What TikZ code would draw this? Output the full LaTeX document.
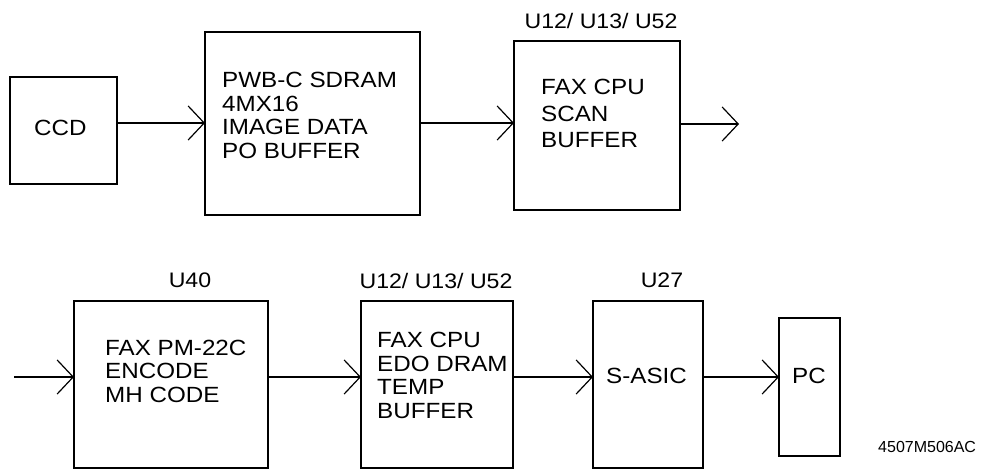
\documentclass[tikz,border=0pt]{standalone}
\usepackage{fontspec}
\setmainfont{Liberation Sans}[FakeStretch=1.1]
\newfontfamily\codefont{Liberation Sans}
\usetikzlibrary{arrows.meta}
\begin{document}
\begin{tikzpicture}[x=1pt,y=-1pt,
  box/.style={draw,line width=1.2pt,inner sep=0pt,outer sep=0pt},
  txt/.style={anchor=north west,inner sep=0pt,align=left,font=\fontsize{22}{23.5}\selectfont},
  lbl/.style={anchor=north,inner sep=0pt,font=\fontsize{21}{24}\selectfont},
  flow/.style={line width=1.2pt,-{Straight Barb[length=16pt,width=34pt]}}]
\useasboundingbox (0,0) rectangle (985,470);
% top row
\node[box,minimum width=107,minimum height=107] (ccd) at (63.5,130.5) {};
\node[box,minimum width=215,minimum height=183] (pwb) at (312.5,123.5) {};
\node[box,minimum width=166,minimum height=169] (scan) at (597,125.5) {};
\node[txt] (ccdt) at (34,120) {CCD};
\node[txt,font=\fontsize{22}{23.7}\selectfont] (pwbt) at (222,72) {PWB-C SDRAM\\4MX16\\IMAGE DATA\\PO BUFFER};
\node[txt,font=\fontsize{22}{26.7}\selectfont] (scant) at (541,79) {FAX CPU\\SCAN\\BUFFER};
\node[lbl] (scanl) at (601,13) {U12/ U13/ U52};
\coordinate (scanout) at (739,124);
% bottom row
\node[box,minimum width=194,minimum height=167] (pm) at (171,384.5) {};
\node[box,minimum width=152,minimum height=167] (edo) at (437,384.5) {};
\node[box,minimum width=110,minimum height=167] (asic) at (648,384.5) {};
\node[box,minimum width=61,minimum height=138] (pc) at (809.5,387) {};
\node[txt,font=\fontsize{22}{23.3}\selectfont] (pmt) at (105,340) {FAX PM-22C\\ENCODE\\MH CODE};
\node[txt,font=\fontsize{22}{23.6}\selectfont] (edot) at (377,332) {FAX CPU\\EDO DRAM\\TEMP\\BUFFER};
\node[txt] (asict) at (606,368) {S-ASIC};
\node[txt] (pct) at (792,368) {PC};
\node[lbl] (pml) at (190,273) {U40};
\node[lbl] (edol) at (436,273) {U12/ U13/ U52};
\node[lbl] (asicl) at (662,273) {U27};
\coordinate (pmin) at (14,377);
\node[anchor=north west,inner sep=0pt,font=\codefont\fontsize{16}{18}\selectfont] (code) at (878,441) {4507M506AC};
% connectors
\draw[flow] (ccd.east |- 0,123) -- (pwb.west |- 0,123);
\draw[flow] (pwb.east |- 0,123) -- (scan.west |- 0,123);
\draw[flow] (scan.east |- scanout) -- (scanout);
\draw[flow] (pmin) -- (pm.west |- pmin);
\draw[flow] (pm.east |- pmin) -- (edo.west |- pmin);
\draw[flow] (edo.east |- pmin) -- (asic.west |- pmin);
\draw[flow] (asic.east |- pmin) -- (pc.west |- pmin);
\end{tikzpicture}
\end{document}
